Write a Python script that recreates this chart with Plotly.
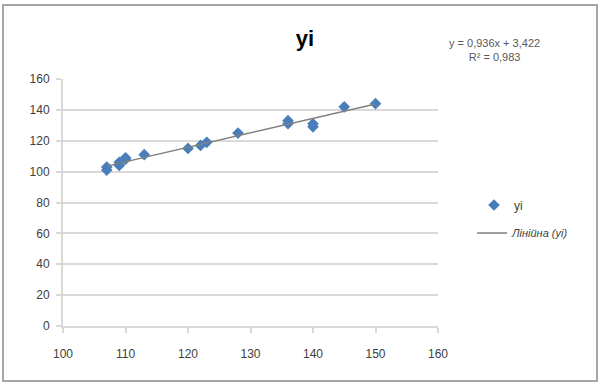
import plotly.graph_objects as go

# Data
xi = [107, 107, 109, 109, 110, 110, 113, 120, 122, 123, 128, 136, 136, 140, 140, 145, 150]
yi = [101, 103, 104, 106, 108, 109, 111, 115, 117, 119, 125, 131, 133, 129, 131, 142, 144]
slope = 0.936
intercept = 3.422
r2 = 0.983
x_ticks = [100, 110, 120, 130, 140, 150, 160]
y_ticks = [0, 20, 40, 60, 80, 100, 120, 140, 160]

trend_x = [min(xi), max(xi)]
trend_y = [slope * v + intercept for v in trend_x]

font_family = "Liberation Sans, Arial, sans-serif"

fig = go.Figure()
fig.add_trace(go.Scatter(
    x=xi, y=yi, mode="markers", name="yi",
    marker=dict(symbol="diamond", size=9, color="#4a7ebb"),
    legend="legend",
))
fig.add_trace(go.Scatter(
    x=trend_x, y=trend_y, mode="lines", name="<i>Лінійна (yi)</i>",
    line=dict(color="#808080", width=1.5),
    legend="legend2",
))

fig.update_layout(
    width=600, height=383,
    margin=dict(l=63, r=162, t=79, b=57),
    paper_bgcolor="white", plot_bgcolor="white",
    font=dict(family=font_family, size=12, color="#404040"),
    title=dict(text="<b>yi</b>", x=305/600, xanchor="center", y=1-38/383, yanchor="middle",
               font=dict(size=22, color="#000000", family=font_family)),
    xaxis=dict(range=[100, 160], tickvals=x_ticks, showgrid=False, zeroline=False,
               showline=True, linecolor="#d9d9d9", linewidth=2,
               ticks="outside", ticklen=5, tickcolor="#d9d9d9", tickwidth=2,
               ticklabelstandoff=11,
               tickfont=dict(size=12, color="#404040")),
    yaxis=dict(range=[0, 160], tickvals=y_ticks, showgrid=True, gridcolor="#d9d9d9", gridwidth=2,
               zeroline=False, showline=True, linecolor="#d9d9d9", linewidth=2,
               ticks="outside", ticklen=5, tickcolor="#d9d9d9", tickwidth=2,
               ticklabelstandoff=4,
               tickfont=dict(size=12, color="#404040")),
    legend=dict(x=(474-63)/375, xanchor="left", y=(326-205)/247, yanchor="middle",
                bgcolor="rgba(0,0,0,0)", font=dict(size=12, color="#404040")),
    legend2=dict(x=(472-63)/375, xanchor="left", y=(326-233)/247, yanchor="middle",
                 bgcolor="rgba(0,0,0,0)", font=dict(size=11, color="#404040")),
    showlegend=True,
)

fig.add_annotation(
    text=f"y = {str(slope).replace('.', ',')}x + {str(intercept).replace('.', ',')}<br>R² = {str(r2).replace('.', ',')}",
    xref="paper", yref="paper", x=(494-63)/375, y=(326-50)/247,
    xanchor="center", yanchor="middle", showarrow=False, align="center",
    font=dict(size=11, color="#595959", family=font_family),
)

# Outer chart border
fig.add_shape(type="rect", xref="paper", yref="paper",
              x0=(3-63)/375, x1=(597-63)/375, y0=(326-381)/247, y1=(326-5)/247,
              line=dict(color="#a6a6a6", width=2), fillcolor="rgba(0,0,0,0)", layer="below")

fig.write_html("out.html")
